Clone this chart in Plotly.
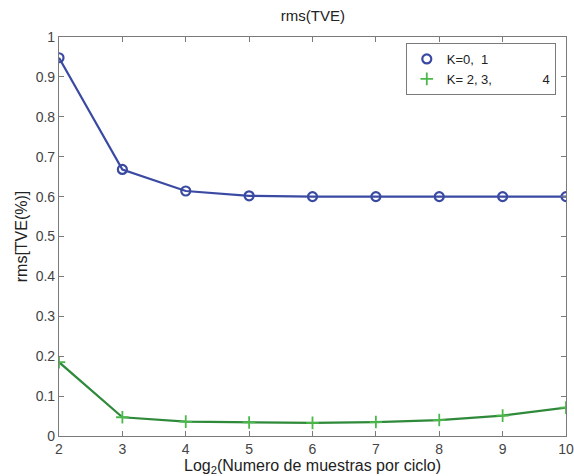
import plotly.graph_objects as go

# Samples per cycle, as log2
log2_samples = [2, 3, 4, 5, 6, 7, 8, 9, 10]

# rms TVE (%) for each group of harmonics
tve_k01 = [0.948, 0.668, 0.614, 0.602, 0.600, 0.600, 0.600, 0.600, 0.600]
tve_k234 = [0.185, 0.047, 0.036, 0.034, 0.033, 0.035, 0.040, 0.051, 0.071]

series_names = ["K=0,\u00a0\u00a01",
                "K=\u00a02,\u00a03," + "\u00a0" * 14 + "4"]

y_ticks = [0, 0.1, 0.2, 0.3, 0.4, 0.5, 0.6, 0.7, 0.8, 0.9, 1]
y_tick_text = ["0", "0.1", "0.2", "0.3", "0.4", "0.5", "0.6", "0.7", "0.8", "0.9", "1"]

FONT = "Liberation Sans, Arial, sans-serif"
BLUE = "#3a4aa3"
GREEN_LINE = "#2e8a3a"
GREEN_MARK = "#4cb84c"

blue_marker = dict(symbol="circle-open", size=9, color=BLUE, line=dict(width=2.2, color=BLUE))
green_marker = dict(symbol="cross-thin-open", size=9, color=GREEN_MARK, line=dict(width=1.8, color=GREEN_MARK))

fig = go.Figure()
# Data curves (lines with markers)
fig.add_trace(go.Scatter(
    x=log2_samples, y=tve_k01, mode="lines+markers", showlegend=False,
    line=dict(color=BLUE, width=2.2), marker=blue_marker,
))
fig.add_trace(go.Scatter(
    x=log2_samples, y=tve_k234, mode="lines+markers", showlegend=False,
    line=dict(color=GREEN_LINE, width=2.2), marker=green_marker,
))
# Legend entries show the marker symbol only
fig.add_trace(go.Scatter(x=[None], y=[None], mode="markers", name=series_names[0], marker=blue_marker))
fig.add_trace(go.Scatter(x=[None], y=[None], mode="markers", name=series_names[1], marker=green_marker))

axis_common = dict(
    showgrid=False, zeroline=False, showline=True, linecolor="#7a7a7a", linewidth=1.2,
    mirror="ticks", ticks="inside", ticklen=5, tickcolor="#7a7a7a",
    tickfont=dict(family=FONT, size=14, color="#444444"),
)

fig.update_layout(
    width=574, height=476,
    margin=dict(l=59, r=8, t=37, b=40, autoexpand=False),
    paper_bgcolor="white", plot_bgcolor="white",
    title=dict(text="rms(TVE)", x=0.545, xanchor="center", y=0.978, yanchor="top",
               font=dict(family=FONT, size=15, color="#222222")),
    xaxis=dict(range=[2, 10], tickvals=log2_samples, **axis_common,
               title=dict(text="Log<sub>2</sub>(Numero de muestras por ciclo)", standoff=3,
                          font=dict(family=FONT, size=16, color="#222222"))),
    yaxis=dict(range=[0, 1], tickvals=y_ticks, ticktext=y_tick_text, **axis_common,
               title=dict(text="rms[TVE(%)]", standoff=4,
                          font=dict(family=FONT, size=16, color="#222222"))),
    legend=dict(x=0.684, y=0.985, xanchor="left", yanchor="top",
                bordercolor="#7a7a7a", borderwidth=1, bgcolor="white",
                font=dict(family=FONT, size=13, color="#222222"),
                itemwidth=30, tracegroupgap=0),
    showlegend=True,
)

fig.write_html("out.html")
